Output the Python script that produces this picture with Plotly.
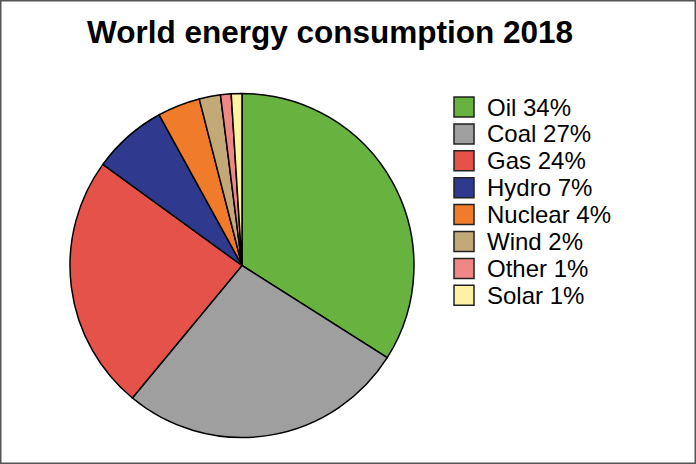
import plotly.graph_objects as go

# World energy consumption 2018, share by source (%)
sources = ['Oil', 'Coal', 'Gas', 'Hydro', 'Nuclear', 'Wind', 'Other', 'Solar']
shares = [34, 27, 24, 7, 4, 2, 1, 1]
colors = ['#68b23f', '#a09fa0', '#e5524a', '#2f3a8e', '#f07b2b', '#c3a878', '#f08787', '#fbf2a4']

W, H = 696, 464


def px_x(x):
    return x / W


def px_y(y):
    return 1 - y / H


fig = go.Figure()

fig.add_trace(go.Pie(
    labels=sources,
    values=shares,
    sort=False,
    direction='clockwise',
    rotation=0,
    textinfo='none',
    hoverinfo='label+percent',
    showlegend=False,
    marker=dict(colors=colors, line=dict(color='black', width=1.5)),
    domain=dict(x=[px_x(70), px_x(414)], y=[px_y(438), px_y(93)]),
))

# legend drawn by hand so the swatches are as big as in the original
for i, (name, val, col) in enumerate(zip(sources, shares, colors)):
    yc = 107 + i * 26.9
    fig.add_shape(type='rect', xref='paper', yref='paper',
                  x0=px_x(454), x1=px_x(474), y0=px_y(yc - 10), y1=px_y(yc + 10),
                  fillcolor=col, line=dict(color='#222', width=1.5))
    fig.add_annotation(text=f'{name} {val}%', xref='paper', yref='paper',
                       x=px_x(485), y=px_y(yc), xanchor='left', yanchor='middle',
                       showarrow=False, font=dict(size=24, color='black'))

# grey frame round the picture
fig.add_shape(type='rect', xref='paper', yref='paper', x0=0, x1=1, y0=0, y1=1,
              line=dict(color='#555', width=3))

fig.update_layout(
    width=W, height=H,
    margin=dict(l=0, r=0, t=0, b=0),
    paper_bgcolor='white',
    plot_bgcolor='white',
    font=dict(family='Liberation Sans, Arial, sans-serif'),
    title=dict(text='<b>World energy consumption 2018</b>',
               x=px_x(330), xanchor='center',
               y=px_y(21), yanchor='top',
               font=dict(size=31.5, color='black')),
)

# drop the page's default body margin so the figure sits at the window corner
fig.write_html('out.html', config={'displayModeBar': False},
               post_script="document.body.style.margin='0';")
